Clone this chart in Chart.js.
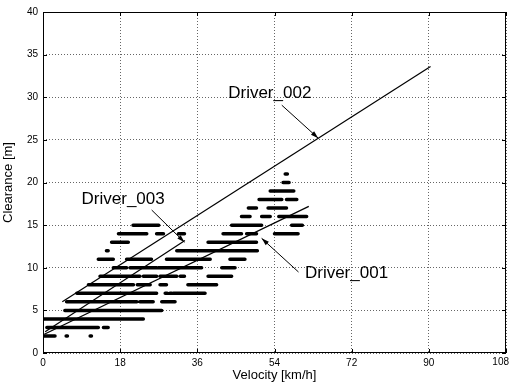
<!DOCTYPE html>
<html><head><meta charset="utf-8">
<script src="https://cdn.jsdelivr.net/npm/chart.js@4.4.1/dist/chart.umd.min.js"></script>
<style>html,body{margin:0;background:#fff}#wrap{width:510px;height:383px}</style>
</head><body><div id="wrap"><canvas id="c"></canvas></div>
<script>
// ---------- DATA ----------
const xTicks = [0,18,36,54,72,90,108];
const yTicks = [0,5,10,15,20,25,30,35,40];
// measured clearance bands: [clearance m, [v from, v to], ...]
const bands = [
  [2, [0,2.8],[5.4,5.7],[11,11.3]],
  [3, [0.9,12.9],[14.1,15.2]],
  [4, [0,23.4]],
  [5, [5.1,27.7]],
  [6, [5.5,21.9],[22.6,25.7],[27.7,30.8]],
  [7, [7.9,26.5],[28.5,29],[29.6,30],[30.4,37.8]],
  [8, [10.6,21.1],[22,25],[27.3,28.8],[33.8,40.5]],
  [9, [13.3,22.6],[23.4,26.5],[27.3,31.2],[32,33],[38.5,44]],
  [10, [16.4,19.5],[20.3,26.5],[26.9,37],[41.7,44.8]],
  [11, [12.9,16.4],[19.5,25.3],[28.8,39],[43.6,47.1]],
  [12, [14.8,15.2],[31.2,50]],
  [13, [16,19.9],[38.5,49.8]],
  [14, [17.6,24.2],[26.5,28.1],[31.6,33],[42,46.3],[47.5,49.8],[54,59.5]],
  [15, [21,27],[44,51],[58,60.5]],
  [16, [46.3,48.3],[51,53],[55,61.5]],
  [17, [47.9,49.8],[52.5,56.8]],
  [18, [50.4,55.7],[56.8,59.2]],
  [19, [53,58.5]],
  [20, [56,57.4]],
  [21, [56.5,57]],
];
const driver001 = [{x:0.3,y:2.2},{x:62,y:17.2}];
const driver002 = [{x:4.5,y:6},{x:90.4,y:33.6}];
const driver003 = [{x:0.5,y:2.5},{x:33.1,y:13.2}];
const notes = [
  {text:'Driver_002', at:[43.2,29.95], from:[55.7,29.07], to:[64.2,25.2]},
  {text:'Driver_003', at:[9.0,17.5],   from:[25.35,16.77], to:[33.0,13.0]},
  {text:'Driver_001', at:[61.1,8.75],  from:[59.6,9.5],   to:[51.0,13.45]},
];

// bands -> one broken line (null between dashes)
const bandPts = [];
bands.forEach(([y,...segs])=>segs.forEach(([a,b])=>{
  bandPts.push({x:a,y},{x:b,y},{x:b,y:null});
}));

const FONT = '"Liberation Sans", Arial, sans-serif';
const lastX = xTicks[xTicks.length-1];
const lineDs = (label,data)=>({label,data,showLine:true,borderColor:'#000',borderWidth:1.2,pointRadius:0,fill:false});

// frame, inward ticks, last x label, labels with arrows
const decor = {
  id:'decor',
  afterDatasetsDraw(chart){
    const {ctx, chartArea:a, scales:{x,y}} = chart;
    ctx.save();
    ctx.strokeStyle='#000'; ctx.lineWidth=1;
    ctx.strokeRect(a.left+0.5,a.top+0.5,a.right-a.left-1,a.bottom-a.top-1);
    ctx.beginPath();
    xTicks.forEach(v=>{const p=Math.round(x.getPixelForValue(v))+0.5;
      ctx.moveTo(p,a.bottom);ctx.lineTo(p,a.bottom-4);ctx.moveTo(p,a.top);ctx.lineTo(p,a.top+4);});
    yTicks.forEach(v=>{const p=Math.round(y.getPixelForValue(v))+0.5;
      ctx.moveTo(a.left,p);ctx.lineTo(a.left+4,p);ctx.moveTo(a.right,p);ctx.lineTo(a.right-4,p);});
    ctx.stroke();
    ctx.fillStyle='#000';
    // last x label kept inside the canvas
    ctx.font='10px '+FONT; ctx.textAlign='right'; ctx.textBaseline='top';
    ctx.fillText(String(lastX), x.getPixelForValue(lastX)+3, a.bottom+4);
    ctx.font='17px '+FONT; ctx.textAlign='left'; ctx.textBaseline='alphabetic';
    notes.forEach(n=>{
      ctx.fillText(n.text, x.getPixelForValue(n.at[0]), y.getPixelForValue(n.at[1]));
      const x1=x.getPixelForValue(n.from[0]), y1=y.getPixelForValue(n.from[1]);
      const x2=x.getPixelForValue(n.to[0]),   y2=y.getPixelForValue(n.to[1]);
      const ang=Math.atan2(y2-y1,x2-x1);
      ctx.beginPath(); ctx.moveTo(x1,y1); ctx.lineTo(x2,y2); ctx.stroke();
      ctx.beginPath(); ctx.moveTo(x2,y2);
      ctx.lineTo(x2-8*Math.cos(ang-0.3), y2-8*Math.sin(ang-0.3));
      ctx.lineTo(x2-8*Math.cos(ang+0.3), y2-8*Math.sin(ang+0.3));
      ctx.closePath(); ctx.fill();
    });
    ctx.restore();
  }
};

new Chart(document.getElementById('c'),{
  type:'scatter',
  data:{datasets:[
    {label:'bands',data:bandPts,showLine:true,spanGaps:false,borderColor:'#000',borderWidth:3.5,borderCapStyle:'round',pointRadius:0},
    lineDs('Driver_001',driver001),
    lineDs('Driver_002',driver002),
    lineDs('Driver_003',driver003),
  ]},
  options:{
    responsive:true, maintainAspectRatio:false, animation:false,
    layout:{padding:{top:12,right:4,left:0,bottom:0}},
    plugins:{legend:{display:false},tooltip:{enabled:false}},
    scales:{
      x:{type:'linear',min:0,max:108,
        afterBuildTicks:s=>{s.ticks=xTicks.map(v=>({value:v}));},
        afterFit:s=>{s.height=30;s.paddingLeft=0;s.paddingRight=0;},
        grid:{color:'#666',lineWidth:1,drawTicks:false},
        border:{display:false,dash:[1,2]},
        ticks:{color:'#000',font:{family:FONT,size:10},padding:4,maxRotation:0,
          callback:v=>v===lastX?'':String(v)},
        title:{display:true,text:'Velocity [km/h]',color:'#000',font:{family:FONT,size:13},padding:{top:0,bottom:0}}},
      y:{type:'linear',min:0,max:40,
        afterBuildTicks:s=>{s.ticks=yTicks.map(v=>({value:v}));},
        afterFit:s=>{s.width=43;s.paddingTop=0;s.paddingBottom=0;},
        grid:{color:'#666',lineWidth:1,drawTicks:false},
        border:{display:false,dash:[1,2]},
        ticks:{color:'#000',font:{family:FONT,size:10},padding:5},
        title:{display:true,text:'Clearance [m]',color:'#000',font:{family:FONT,size:13},padding:{top:1,bottom:0}}},
    }
  },
  plugins:[decor]
});
</script>
</body></html>
